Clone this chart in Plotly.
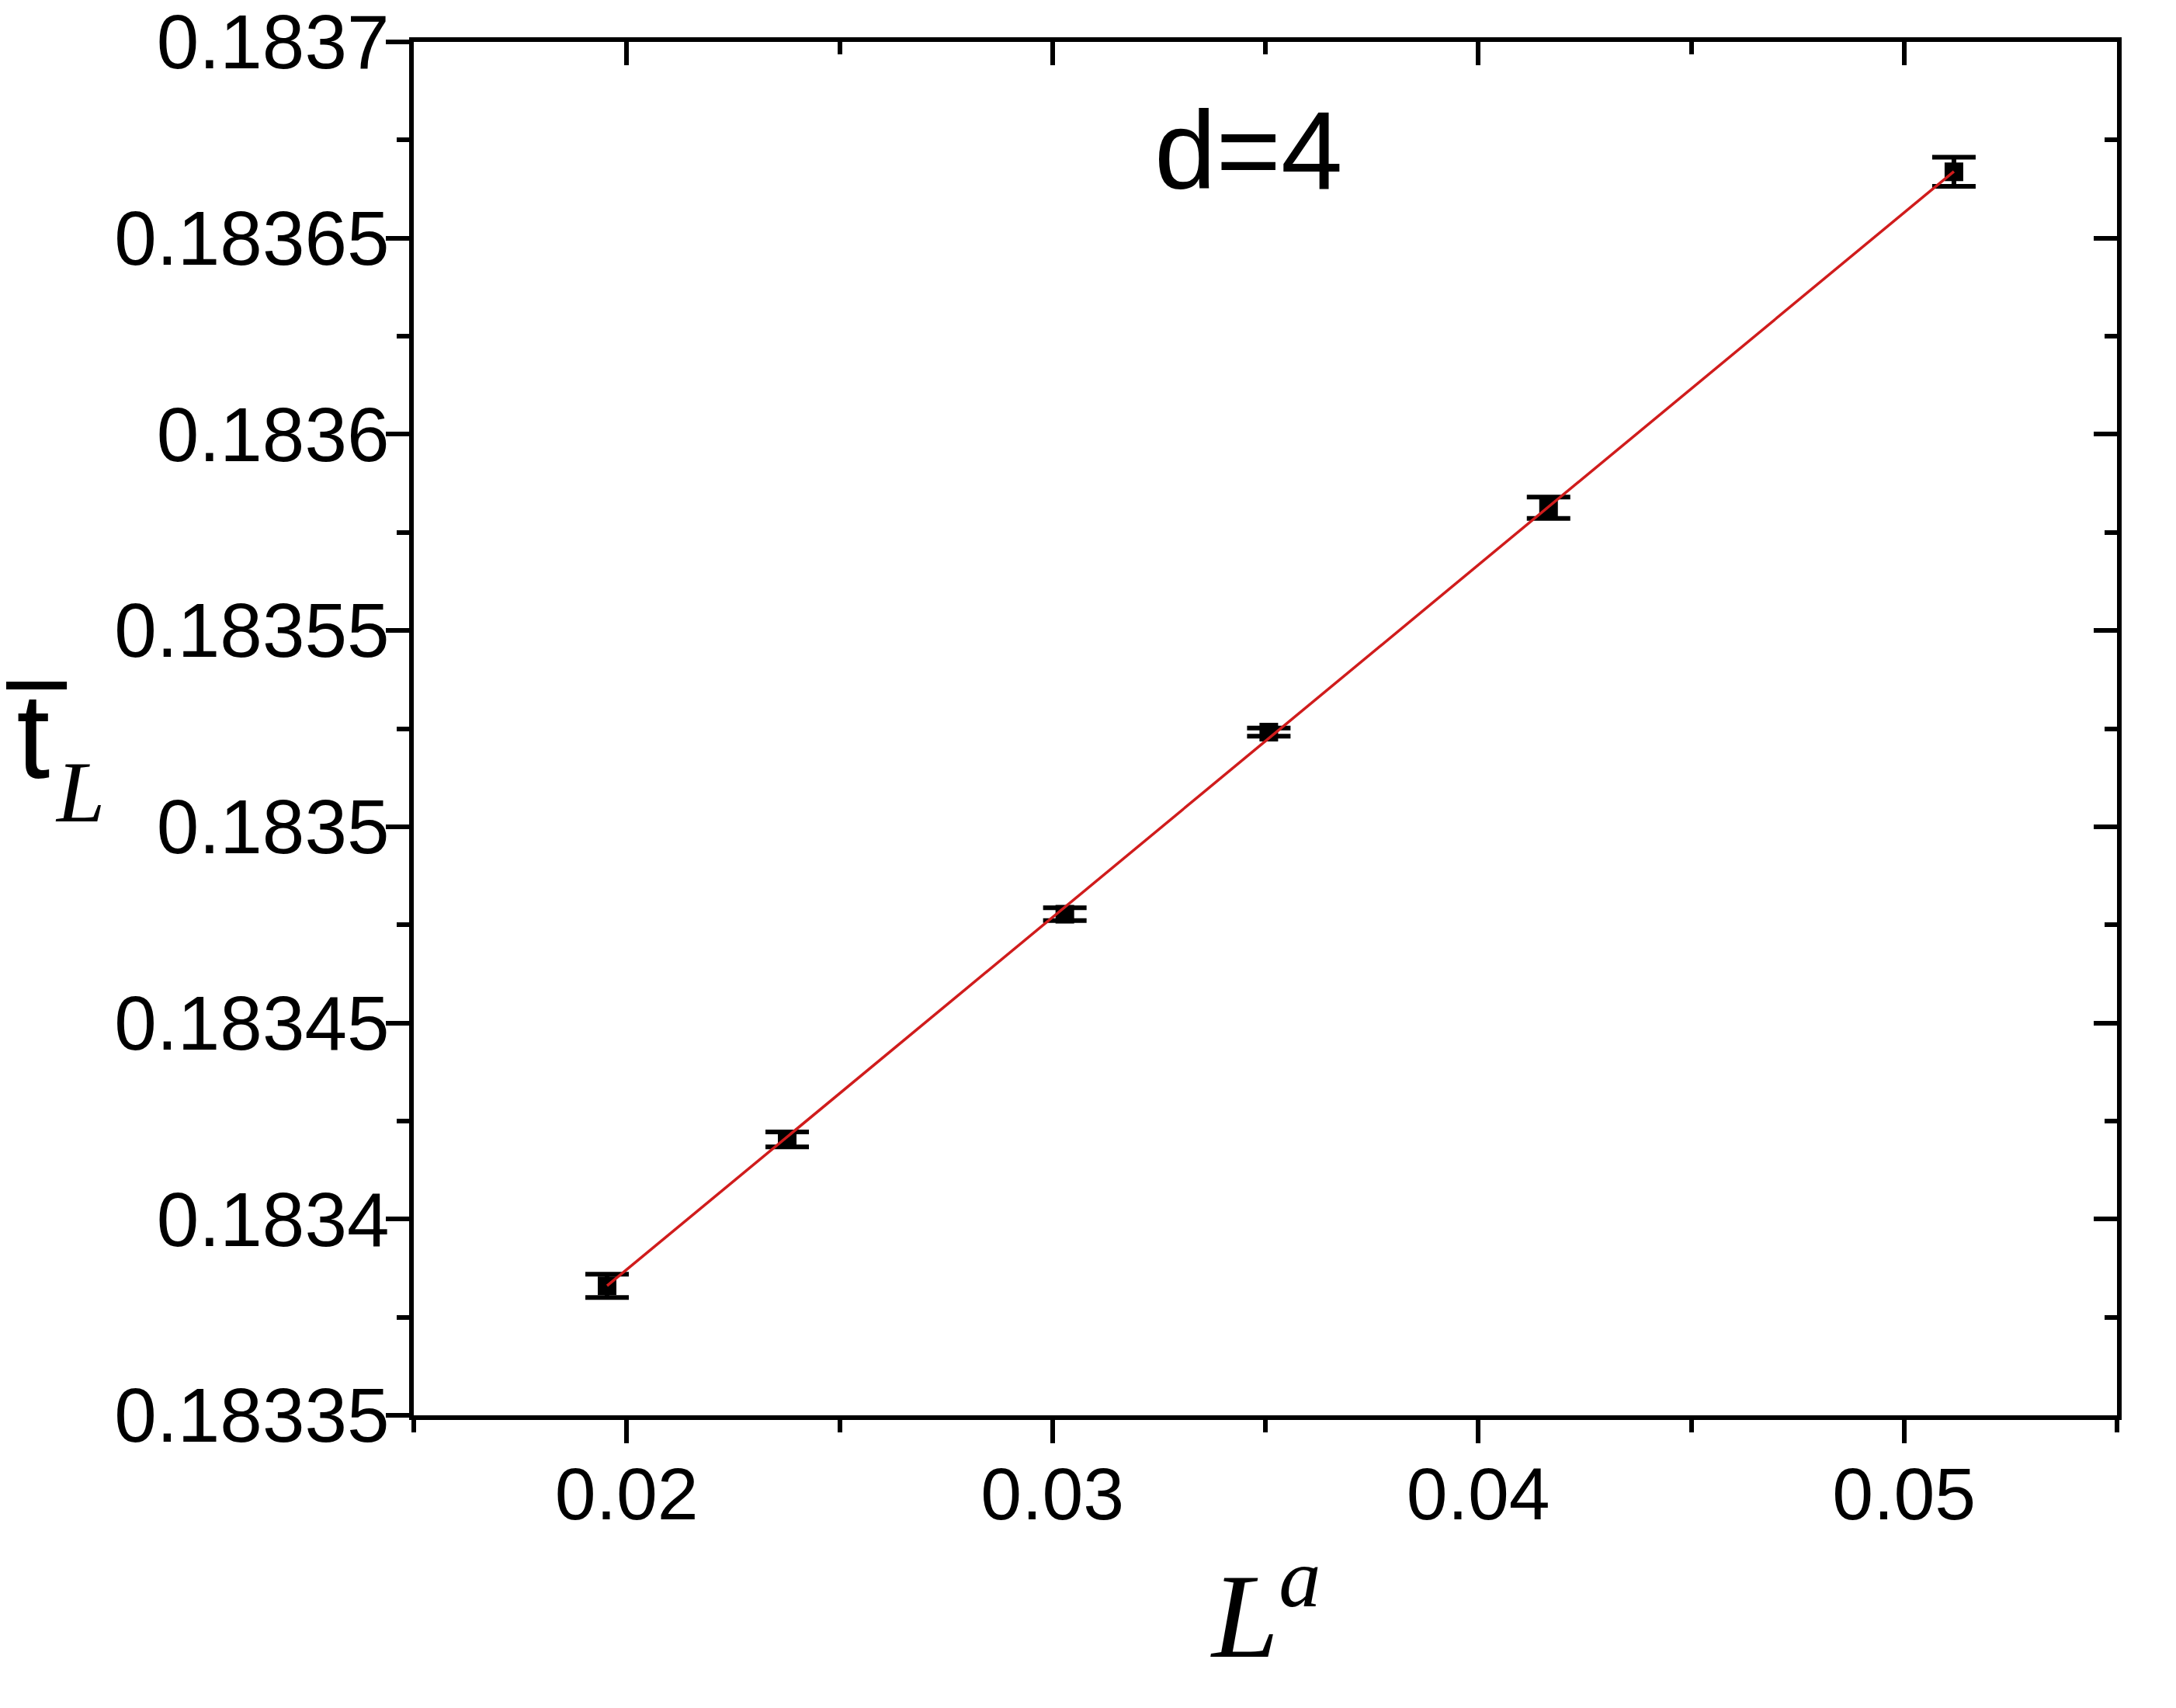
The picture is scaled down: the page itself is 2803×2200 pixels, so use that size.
import plotly.graph_objects as go

# ---- data ----
x_vals = [0.01954, 0.02377, 0.03029, 0.03508, 0.04165, 0.05117]
y_vals = [0.183383, 0.1834203, 0.1834777, 0.1835241, 0.1835813, 0.1836669]
y_err = [2.96e-6, 1.91e-6, 1.64e-6, 1.05e-6, 2.72e-6, 3.71e-6]

fit_x = [0.01954, 0.05117]
fit_y = [0.183383, 0.183667]

x_tick_vals = [0.02, 0.03, 0.04, 0.05]
x_tick_text = ["0.02", "0.03", "0.04", "0.05"]
y_tick_vals = [0.18335, 0.1834, 0.18345, 0.1835, 0.18355, 0.1836, 0.18365, 0.1837]
y_tick_text = ["0.18335", "0.1834", "0.18345", "0.1835", "0.18355", "0.1836", "0.18365", "0.1837"]

x_range = [0.015, 0.055]
y_range = [0.18335, 0.1837]

SANS = "Liberation Sans, Arial, sans-serif"
SERIF = "Liberation Serif, Times New Roman, serif"

fig = go.Figure()

fig.add_trace(go.Scatter(
    x=x_vals, y=y_vals, mode="markers",
    marker=dict(symbol="square", size=24, color="black"),
    error_y=dict(type="data", array=y_err, color="black", thickness=6, width=28, visible=True),
    showlegend=False,
))
# fit line drawn on the mirrored (top/right) axes, which share the same ranges
fig.add_trace(go.Scatter(
    x=fit_x, y=fit_y, mode="lines", xaxis="x2", yaxis="y2",
    line=dict(color="#D01C1C", width=3.5),
    showlegend=False,
))

axis_common = dict(
    showline=True, linecolor="black", linewidth=6,
    showgrid=False, zeroline=False, automargin=False,
    tickcolor="black", tickwidth=6, ticklen=30,
)

fig.update_layout(
    width=2803, height=2200,
    margin=dict(l=525, r=84, t=46, b=385, pad=0, autoexpand=False),
    paper_bgcolor="white", plot_bgcolor="white",
    showlegend=False,
    xaxis=dict(
        range=x_range, ticks="outside", tickmode="array",
        tickvals=x_tick_vals, ticktext=x_tick_text,
        tickfont=dict(family=SANS, size=95, color="black"),
        ticklabelstandoff=-16, ticklabeloverflow="allow",
        minor=dict(ticks="outside", ticklen=16, tickwidth=6, tickcolor="black",
                   tickmode="linear", tick0=0.015, dtick=0.005),
        **axis_common,
    ),
    yaxis=dict(
        range=y_range, ticks="outside", tickmode="array",
        tickvals=y_tick_vals, ticktext=y_tick_text,
        tickfont=dict(family=SANS, size=98, color="black"),
        ticklabelstandoff=-24, ticklabeloverflow="allow",
        minor=dict(ticks="outside", ticklen=16, tickwidth=6, tickcolor="black",
                   tickmode="linear", tick0=0.18335, dtick=0.000025),
        **axis_common,
    ),
    xaxis2=dict(
        range=x_range, overlaying="x", side="top", anchor="y2",
        ticks="inside", tickmode="array", tickvals=x_tick_vals,
        showticklabels=False,
        minor=dict(ticks="inside", ticklen=16, tickwidth=6, tickcolor="black",
                   tickmode="linear", tick0=0.015, dtick=0.005),
        **axis_common,
    ),
    yaxis2=dict(
        range=y_range, overlaying="y", side="right", anchor="x2",
        ticks="inside", tickmode="array", tickvals=y_tick_vals,
        showticklabels=False,
        minor=dict(ticks="inside", ticklen=16, tickwidth=6, tickcolor="black",
                   tickmode="linear", tick0=0.18335, dtick=0.000025),
        **axis_common,
    ),
)

annotations = [
    dict(text="d=4", x=0.4902, y=0.9214, xref="paper", yref="paper",
         xanchor="center", yanchor="middle", showarrow=False,
         font=dict(family=SANS, size=143, color="black")),
    dict(text="t\u0305", x=-0.2242, y=0.4945, xref="paper", yref="paper",
         xanchor="center", yanchor="middle", showarrow=False,
         font=dict(family=SANS, size=155, color="black")),
    dict(text="<i>L</i>", x=-0.196, y=0.4539, xref="paper", yref="paper",
         xanchor="center", yanchor="middle", showarrow=False,
         font=dict(family=SERIF, size=112, color="black")),
    dict(text="<i>L</i><sup><i>a</i></sup>", x=0.5, y=-0.196, xref="paper", yref="paper",
         xanchor="center", yanchor="bottom", showarrow=False,
         font=dict(family=SERIF, size=155, color="black")),
]
fig.update_layout(annotations=annotations)

fig.write_html("out.html")
